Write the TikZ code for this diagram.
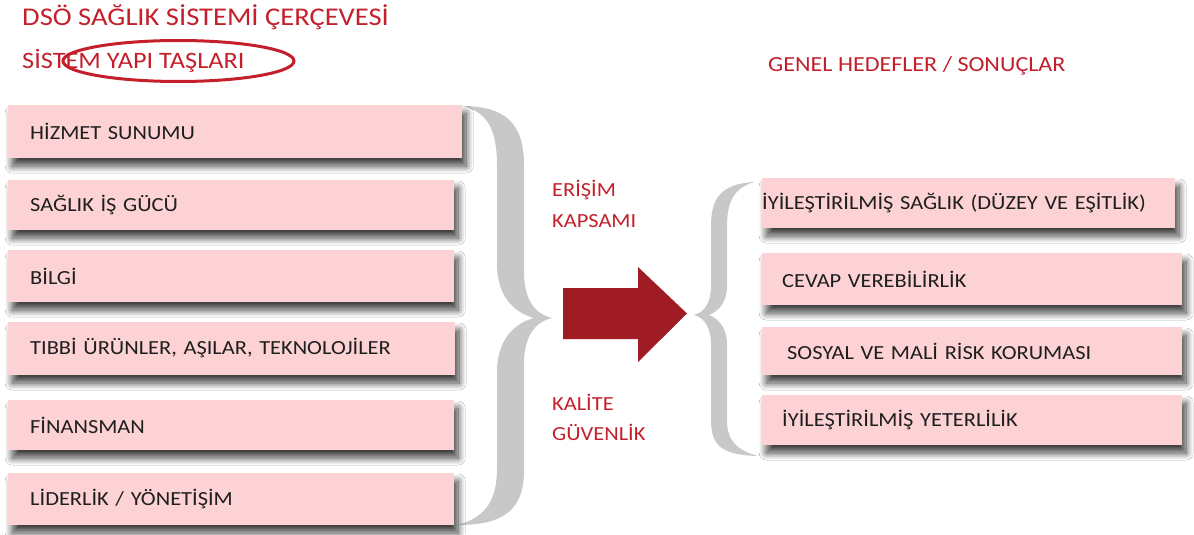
\documentclass[tikz,border=0pt]{standalone}
\usepackage{fontspec}
\setmainfont[FakeStretch=1.12]{Carlito}
\usetikzlibrary{shadows.blur}
\definecolor{boxpink}{HTML}{FCD2D4}
\definecolor{txtdark}{HTML}{1E1E1E}
\definecolor{hdrred}{HTML}{C3202C}
\definecolor{arrred}{HTML}{A01C24}
\definecolor{bracegray}{HTML}{C8C8C8}
\tikzset{
  itembox/.style={rectangle, fill=boxpink, draw=none, anchor=west, align=left,
    inner ysep=0pt, text=txtdark, font=\fontsize{20pt}{24pt}\selectfont,
    blur shadow={shadow xshift=4pt, shadow yshift=-8pt, shadow blur radius=7pt, shadow opacity=75, shadow blur steps=14}},
  hdr/.style={anchor=base west, inner sep=0pt, text=hdrred},
  redlbl/.style={anchor=west, inner sep=0pt, text=hdrred, font=\fontsize{20pt}{24pt}\selectfont},
  bracefill/.style={fill=bracegray, draw=none},
}
\begin{document}
\begin{tikzpicture}[x=1pt, y=-1pt]
\useasboundingbox[fill=white] (0,0) rectangle (1194,535);

% headers
\node[hdr, font=\fontsize{25.5pt}{30pt}\selectfont] (title) at (22,26) {DSÖ SAĞLIK SİSTEMİ ÇERÇEVESİ};
\node[hdr, font=\fontsize{23.5pt}{28pt}\selectfont] (sub) at (22,68) {SİSTEM YAPI TAŞLARI};
\draw[hdrred, line width=3pt] (178.5,61) ellipse [x radius=115.5, y radius=20.5];
\node[hdr, font=\fontsize{21.5pt}{26pt}\selectfont] (goals) at (768,72) {GENEL HEDEFLER / SONUÇLAR};

% left brace
\path[bracefill] (462,106) .. controls (506,106) and (524,124) .. (524,165)
  -- (524,272) .. controls (524,300) and (535,314) .. (552,318)
  .. controls (535,322) and (524,336) .. (524,364)
  -- (524,470) .. controls (524,508) and (506,525) .. (458,525)
  .. controls (486,517) and (497,500) .. (497,468)
  -- (497,372) .. controls (497,342) and (512,324) .. (534,318)
  .. controls (512,312) and (497,294) .. (497,264)
  -- (497,166) .. controls (497,130) and (488,112) .. (462,106) -- cycle;

% right brace
\path[bracefill] (754,182) .. controls (722,184) and (711,197) .. (711,226)
  -- (711,286) .. controls (711,302) and (705,312) .. (694,315)
  .. controls (705,318) and (711,328) .. (711,345)
  -- (711,420) .. controls (711,446) and (722,455) .. (758,456)
  .. controls (736,450) and (727,440) .. (727,420)
  -- (727,345) .. controls (727,330) and (721,320) .. (709,315)
  .. controls (721,310) and (727,300) .. (727,286)
  -- (727,226) .. controls (727,200) and (735,188) .. (754,182) -- cycle;

% left boxes
\node[itembox, minimum width=454pt, minimum height=53pt, text width=410pt, inner xsep=22pt] (b1) at (8,131.5) {HİZMET SUNUMU};
\node[itembox, minimum width=446pt, minimum height=50pt, text width=402pt, inner xsep=22pt] (b2) at (8,205) {SAĞLIK İŞ GÜCÜ};
\node[itembox, minimum width=446pt, minimum height=52pt, text width=402pt, inner xsep=22pt] (b3) at (8,276) {BİLGİ};
\node[itembox, minimum width=447pt, minimum height=53pt, text width=403pt, inner xsep=22pt] (b4) at (8,348.5) {TIBBİ ÜRÜNLER, AŞILAR, TEKNOLOJİLER};
\node[itembox, minimum width=446pt, minimum height=50pt, text width=402pt, inner xsep=22pt] (b5) at (8,425) {FİNANSMAN};
\node[itembox, minimum width=446pt, minimum height=52pt, text width=402pt, inner xsep=22pt] (b6) at (8,499) {LİDERLİK / YÖNETİŞİM};

% middle labels
\node[redlbl] (er) at (552,190) {ERİŞİM};
\node[redlbl] (ka) at (552,221) {KAPSAMI};
\node[redlbl] (kal) at (552,402) {KALİTE};
\node[redlbl] (gu) at (552,432) {GÜVENLİK};

% arrow
\fill[arrred] (563,288) -- (638,288) -- (638,267) -- (687,313.5) -- (638,362) -- (638,339) -- (563,339) -- cycle;

% right boxes
\node[itembox, minimum width=413pt, minimum height=50pt, text width=413pt, inner xsep=0pt] (r1) at (762,203) {İYİLEŞTİRİLMİŞ SAĞLIK (DÜZEY VE EŞİTLİK)};
\node[itembox, minimum width=420pt, minimum height=52pt, text width=380pt, inner xsep=20pt] (r2) at (762,279) {CEVAP VEREBİLİRLİK};
\node[itembox, minimum width=420pt, minimum height=48pt, text width=370pt, inner xsep=25pt] (r3) at (762,351) {SOSYAL VE MALİ RİSK KORUMASI};
\node[itembox, minimum width=420pt, minimum height=50pt, text width=380pt, inner xsep=20pt] (r4) at (762,420) {İYİLEŞTİRİLMİŞ YETERLİLİK};
\end{tikzpicture}
\end{document}
